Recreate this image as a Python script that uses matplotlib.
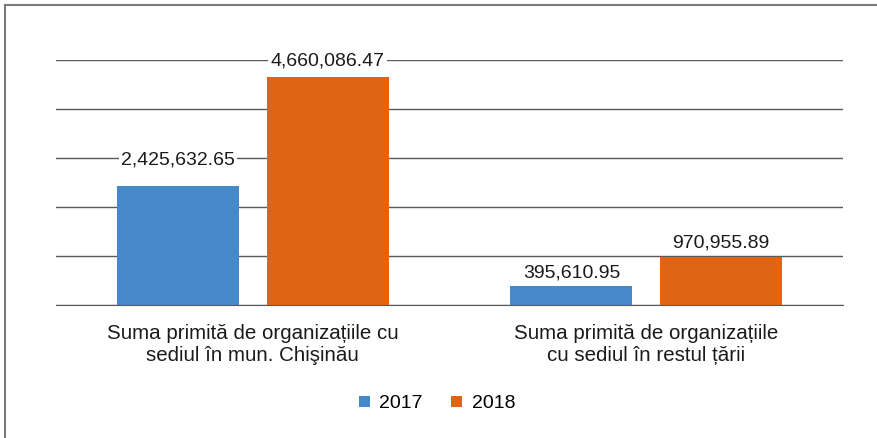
import matplotlib
matplotlib.use("Agg")
import matplotlib.pyplot as plt
import numpy as np

categories = ["Suma primită de organizațiile cu\nsediul în mun. Chişinău",
              "Suma primită de organizațiile\ncu sediul în restul țării"]
series_names = ["2017", "2018"]
values_2017 = [2425632.65, 395610.95]
values_2018 = [4660086.47, 970955.89]
colors = ["#4689c9", "#e06412"]

plt.rcParams['font.family'] = ['Liberation Sans', 'DejaVu Sans']

fig = plt.figure(figsize=(8.78, 4.38), dpi=100)
# figure border (top and left visible)
fig.add_artist(plt.Line2D([5/878, 1.0], [1-5/438, 1-5/438], transform=fig.transFigure,
                          color="#7a7a7a", lw=1.5))
fig.add_artist(plt.Line2D([5/878, 5/878], [0, 1-5/438], transform=fig.transFigure,
                          color="#7a7a7a", lw=1.5))

ax = fig.add_axes([56/878, 1-305/438, (843-56)/878, (305-60)/438])
x = np.arange(len(categories))
w = 0.31
off = 0.19
b1 = ax.bar(x - off, values_2017, w, color=colors[0], label=series_names[0], zorder=4)
b2 = ax.bar(x + off, values_2018, w, color=colors[1], label=series_names[1], zorder=4)

ax.set_xlim(-0.5, 1.5)
ax.set_ylim(0, 5_000_000)
ax.set_yticks(np.arange(0, 5_000_001, 1_000_000))
ax.yaxis.grid(True, color="#5a5a5a", lw=1.0, zorder=0)
ax.tick_params(axis='y', left=False, labelleft=False)
ax.tick_params(axis='x', bottom=False, labelsize=14.8, pad=10, labelcolor="#1a1a1a")
for s in ["top", "right", "left"]:
    ax.spines[s].set_visible(False)
ax.spines["bottom"].set_color("#5a5a5a")
ax.spines["bottom"].set_zorder(5)
ax.set_xticks(x)
ax.set_xticklabels(categories, linespacing=1.2)

label_offsets = [[26, 13], [16, 14]]  # pixel offsets per series per category
for si, bars in enumerate([b1, b2]):
    for ci, rect in enumerate(bars):
        v = rect.get_height()
        ax.annotate(f"{v:,.2f}", (rect.get_x() + rect.get_width()/2, v),
                    xytext=(0, label_offsets[si][ci] * 0.72), textcoords="offset points",
                    ha="center", va="center", fontsize=14, color="#1a1a1a",
                    bbox=dict(boxstyle="square,pad=0.12", fc="white", ec="none"), zorder=3)

leg = fig.legend(handles=[b1, b2], labels=series_names, loc="center",
                 bbox_to_anchor=(437/878, 1-404/438), ncol=2, frameon=False,
                 fontsize=14, handlelength=0.55, handleheight=0.55,
                 handletextpad=0.5, columnspacing=1.45)

fig.savefig("out.png", dpi=100)
